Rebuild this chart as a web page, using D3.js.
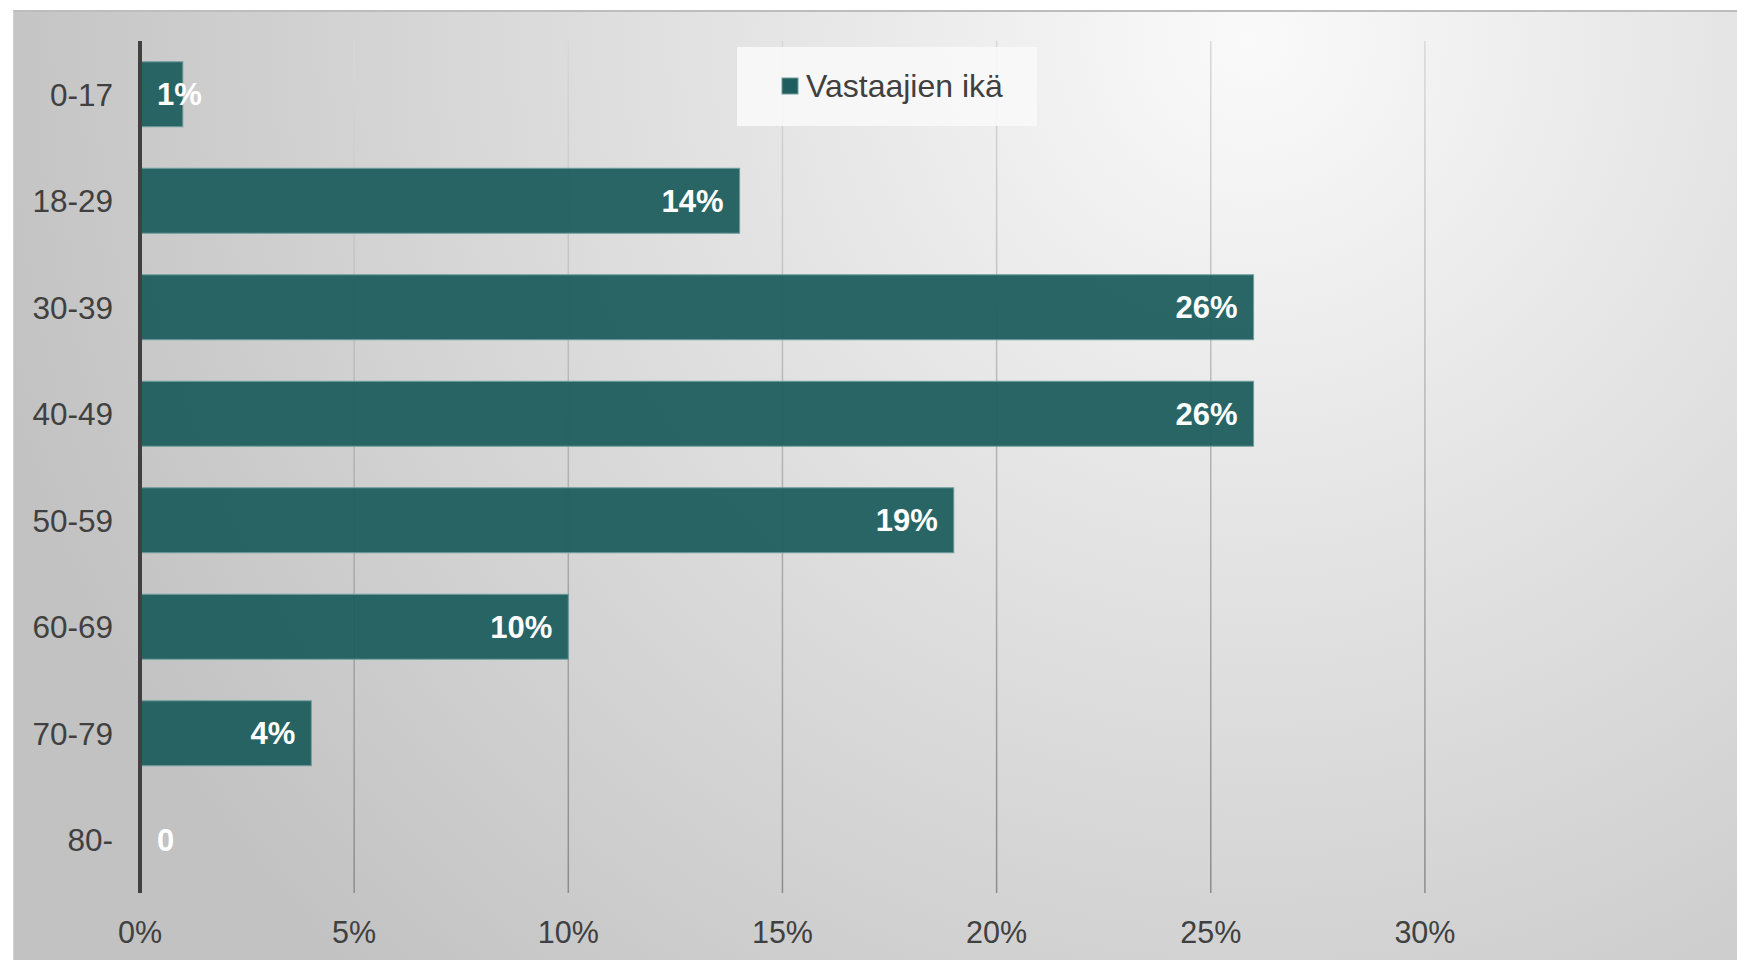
<!DOCTYPE html>
<html>
<head>
<meta charset="utf-8">
<script src="https://cdn.jsdelivr.net/npm/d3@7"></script>
<style>
  html, body { margin: 0; padding: 0; background: #fff; }
  svg { display: block; font-family: "Liberation Sans", Arial, sans-serif; }
</style>
</head>
<body>
<div id="chart"></div>
<script>
const ageGroups = ["0-17", "18-29", "30-39", "40-49", "50-59", "60-69", "70-79", "80-"];
const shares = [1, 14, 26, 26, 19, 10, 4, 0];
const xTicks = [0, 5, 10, 15, 20, 25, 30];
const seriesName = "Vastaajien ikä";

const width = 1737, height = 960;
const margin = {top: 41, right: 312, bottom: 67, left: 140};

const svg = d3.select("#chart")
  .append("svg")
  .attr("width", width)
  .attr("height", height);

const defs = svg.append("defs");
const bg = defs.append("radialGradient")
  .attr("id", "bg")
  .attr("gradientUnits", "userSpaceOnUse")
  .attr("cx", 1250).attr("cy", 40).attr("r", 1300);
bg.append("stop").attr("offset", "0").attr("stop-color", "#fafafa");
bg.append("stop").attr("offset", "0.35").attr("stop-color", "#e6e6e6");
bg.append("stop").attr("offset", "1").attr("stop-color", "#c2c2c2");

const gridGrad = defs.append("linearGradient")
  .attr("id", "gridGrad")
  .attr("gradientUnits", "userSpaceOnUse")
  .attr("x1", 0).attr("y1", margin.top).attr("x2", 0).attr("y2", height - margin.bottom);
gridGrad.append("stop").attr("offset", "0").attr("stop-color", "#d8d8d8");
gridGrad.append("stop").attr("offset", "1").attr("stop-color", "#8c8c8c");

// chart area
svg.append("rect")
  .attr("x", 13).attr("y", 11)
  .attr("width", width - 13).attr("height", height - 11)
  .attr("fill", "url(#bg)");
svg.append("line")
  .attr("x1", 13).attr("x2", width).attr("y1", 11).attr("y2", 11)
  .attr("stroke", "#bdbdbd").attr("stroke-width", 2);
svg.append("line")
  .attr("x1", 13.5).attr("x2", 13.5).attr("y1", 11).attr("y2", height)
  .attr("stroke", "#d0d0d0").attr("stroke-width", 1);

const xScale = d3.scaleLinear()
  .domain([0, 30])
  .range([margin.left, margin.left + 30 * 42.83]);

const yScale = d3.scaleBand()
  .domain(ageGroups)
  .range([margin.top, height - margin.bottom])
  .paddingInner(0.39)
  .paddingOuter(0.195);

// gridlines
svg.append("g")
  .selectAll("line")
  .data(xTicks.filter(t => t > 0))
  .enter()
  .append("line")
  .attr("x1", t => xScale(t)).attr("x2", t => xScale(t))
  .attr("y1", margin.top).attr("y2", height - margin.bottom)
  .attr("stroke", "url(#gridGrad)")
  .attr("stroke-width", 1.5);

// bars
svg.append("g")
  .selectAll("rect")
  .data(shares)
  .enter()
  .append("rect")
  .attr("x", xScale(0))
  .attr("y", (d, i) => yScale(ageGroups[i]))
  .attr("width", d => xScale(d) - xScale(0))
  .attr("height", yScale.bandwidth())
  .attr("fill", "#1f5e5e")
  .attr("fill-opacity", 0.95)
  .attr("stroke", d => d > 0 ? "#6f9d9d" : "none")
  .attr("stroke-width", 1);

// y axis line
svg.append("line")
  .attr("x1", xScale(0)).attr("x2", xScale(0))
  .attr("y1", margin.top).attr("y2", height - margin.bottom)
  .attr("stroke", "#404040").attr("stroke-width", 4);

// category labels
svg.append("g")
  .selectAll("text")
  .data(ageGroups)
  .enter()
  .append("text")
  .attr("x", 113)
  .attr("y", d => yScale(d) + yScale.bandwidth() / 2)
  .attr("dy", "0.36em")
  .attr("text-anchor", "end")
  .attr("font-size", 31.5)
  .attr("fill", "#404040")
  .text(d => d);

// x tick labels
svg.append("g")
  .selectAll("text")
  .data(xTicks)
  .enter()
  .append("text")
  .attr("x", t => xScale(t))
  .attr("y", 943)
  .attr("text-anchor", "middle")
  .attr("font-size", 30.5)
  .attr("fill", "#404040")
  .text(t => t + "%");

// data labels
const labels = svg.append("g")
  .selectAll("text")
  .data(shares)
  .enter()
  .append("text")
  .attr("y", (d, i) => yScale(ageGroups[i]) + yScale.bandwidth() / 2)
  .attr("dy", "0.36em")
  .attr("font-size", 31)
  .attr("font-weight", "bold")
  .attr("fill", "#ffffff")
  .text(d => d === 0 ? "0" : d + "%");

labels.each(function(d) {
  const w = this.getComputedTextLength();
  let right = xScale(d) - 16;
  if (right - w < xScale(0) + 17) right = xScale(0) + 17 + w;
  d3.select(this).attr("x", right).attr("text-anchor", "end");
});

// legend
const legend = svg.append("g");
legend.append("rect")
  .attr("x", 737).attr("y", 47).attr("width", 300).attr("height", 79)
  .attr("fill", "#f8f8f8").attr("fill-opacity", 0.9);
legend.append("rect")
  .attr("x", 782).attr("y", 78).attr("width", 16).attr("height", 16)
  .attr("fill", "#1f5e5e").attr("stroke", "#6f9d9d").attr("stroke-width", 1);
legend.append("text")
  .attr("x", 806).attr("y", 97)
  .attr("font-size", 32)
  .attr("fill", "#404040")
  .text(seriesName);
</script>
</body>
</html>
